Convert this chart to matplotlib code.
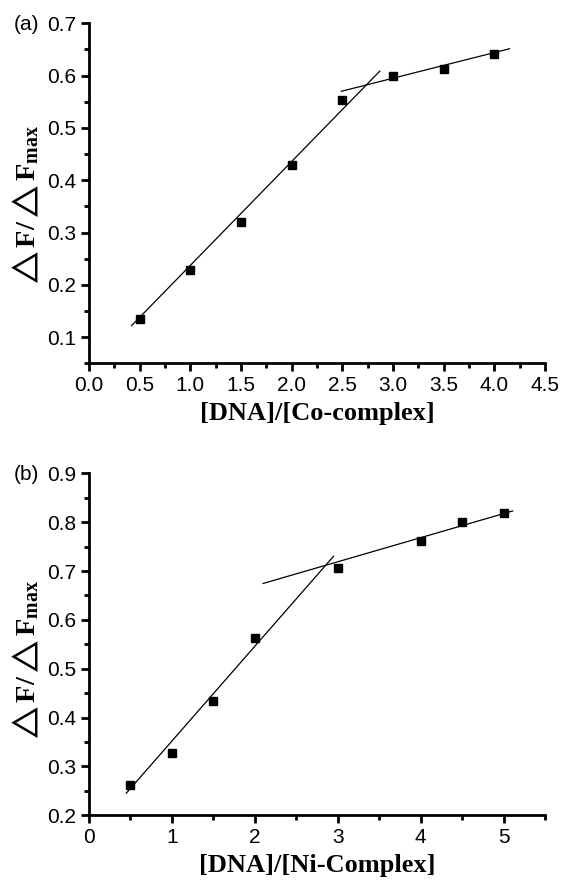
import matplotlib
matplotlib.use("Agg")
import matplotlib.pyplot as plt
import numpy as np
from matplotlib.ticker import MultipleLocator, FormatStrFormatter

plt.rcParams['mathtext.fontset'] = 'custom'
plt.rcParams['mathtext.rm'] = 'Liberation Serif'
plt.rcParams['mathtext.bf'] = 'Liberation Serif:bold'
plt.rcParams['mathtext.it'] = 'Liberation Serif:italic'
plt.rcParams['mathtext.fallback'] = 'stix'

# ---- data (a) Co-complex ----
co_x = [0.5, 1.0, 1.5, 2.0, 2.5, 3.0, 3.5, 4.0]
co_y = [0.134, 0.229, 0.321, 0.430, 0.553, 0.599, 0.613, 0.642]
co_fit_slope = [0.1986, 0.049]
co_fit_icpt = [0.0386, 0.448]
co_fit_xrange = [(0.42, 2.87), (2.49, 4.15)]

# ---- data (b) Ni-complex ----
ni_x = [0.5, 1.0, 1.5, 2.0, 3.0, 4.0, 4.5, 5.0]
ni_y = [0.262, 0.328, 0.433, 0.563, 0.706, 0.761, 0.801, 0.819]
ni_fit_slope = [0.194, 0.0493]
ni_fit_icpt = [0.158, 0.571]
ni_fit_xrange = [(0.45, 2.95), (2.10, 5.11)]

fig = plt.figure(figsize=(5.61, 8.83), dpi=100)
ax1 = fig.add_axes([89/561, 1-363.3/883, 456/561, 340/883])
ax2 = fig.add_axes([89/561, 1-815.3/883, 456/561, 342/883])

TICK_FS = 15
lab_font = dict(family='Liberation Serif', size=19, weight='bold')
ylab = r'$\mathbf{\triangle F/\triangle F_{max}}$'

def style(ax, xlim, ylim, xmaj, xmin, ymaj, ymin, xfmt):
    ax.set_xlim(*xlim)
    ax.set_ylim(*ylim)
    for s in ['top', 'right']:
        ax.spines[s].set_visible(False)
    for s in ['left', 'bottom']:
        ax.spines[s].set_linewidth(2.0)
    ax.xaxis.set_major_locator(MultipleLocator(xmaj))
    ax.xaxis.set_minor_locator(MultipleLocator(xmin))
    ax.yaxis.set_major_locator(MultipleLocator(ymaj))
    ax.yaxis.set_minor_locator(MultipleLocator(ymin))
    ax.xaxis.set_major_formatter(FormatStrFormatter(xfmt))
    ax.yaxis.set_major_formatter(FormatStrFormatter('%.1f'))
    ax.tick_params(which='major', direction='out', length=6, width=2.0, pad=3)
    ax.tick_params(which='minor', direction='out', length=3.5, width=2.0)
    for lab in ax.get_xticklabels() + ax.get_yticklabels():
        lab.set_fontfamily('Liberation Sans')
        lab.set_fontsize(TICK_FS)

def draw(ax, xs, ys, slopes, icpts, xranges):
    ax.plot(xs, ys, 's', color='black', markersize=5.5, clip_on=False)
    for m, b, (xa, xb) in zip(slopes, icpts, xranges):
        xx = np.array([xa, xb])
        ax.plot(xx, m * xx + b, '-', color='black', linewidth=0.9)

def ylabel(ax, ypos):
    ax.set_ylabel(ylab, fontsize=20.5)
    ax.yaxis.set_label_coords(-0.105, ypos)

draw(ax1, co_x, co_y, co_fit_slope, co_fit_icpt, co_fit_xrange)
style(ax1, (0, 4.5), (0.05, 0.7), 0.5, 0.25, 0.1, 0.05, '%.1f')
ax1.set_xlabel('[DNA]/[Co-complex]', fontdict=lab_font, labelpad=5)
ylabel(ax1, 0.46)

draw(ax2, ni_x, ni_y, ni_fit_slope, ni_fit_icpt, ni_fit_xrange)
style(ax2, (0, 5.5), (0.2, 0.9), 1, 0.5, 0.1, 0.05, '%d')
ax2.set_xlabel('[DNA]/[Ni-Complex]', fontdict=lab_font, labelpad=5)
ylabel(ax2, 0.45)

fig.text(14/561, 1-25/883, '(a)', fontsize=TICK_FS, family='Liberation Sans', va='center', ha='left')
fig.text(14/561, 1-475/883, '(b)', fontsize=TICK_FS, family='Liberation Sans', va='center', ha='left')

fig.savefig('out.png', dpi=100)
